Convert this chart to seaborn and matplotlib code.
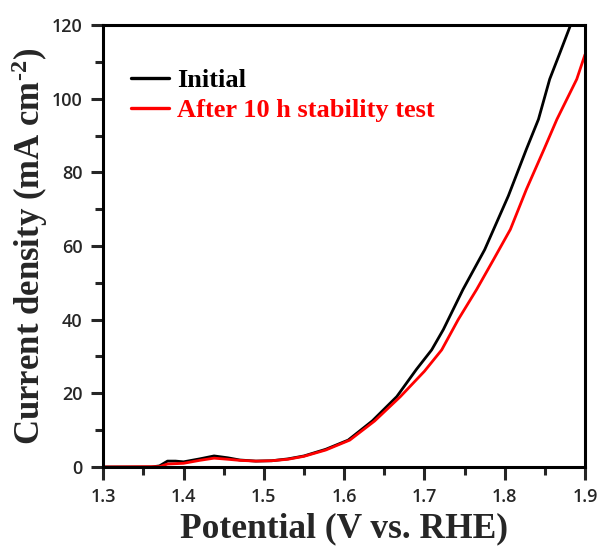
import numpy as np
import pandas as pd
import matplotlib
matplotlib.use("Agg")
import matplotlib.pyplot as plt
from matplotlib.ticker import MultipleLocator
import seaborn as sns

sns.set_style("ticks")
plt.rcParams["mathtext.fontset"] = "custom"
plt.rcParams["mathtext.rm"] = "Liberation Serif:bold"
plt.rcParams["mathtext.bf"] = "Liberation Serif:bold"
plt.rcParams["mathtext.default"] = "bf"

# LSV data
initial_v = [1.30, 1.36, 1.37, 1.38, 1.39, 1.40, 1.42, 1.438, 1.455, 1.47, 1.49, 1.51,
             1.53, 1.55, 1.577, 1.605, 1.635, 1.6655, 1.69, 1.709, 1.7235, 1.748, 1.775,
             1.8045, 1.827, 1.842, 1.856, 1.869, 1.882]
initial_j = [0.0, 0.0, 0.3, 1.6, 1.6, 1.4, 2.2, 3.0, 2.5, 1.9, 1.6, 1.7,
             2.2, 3.0, 4.8, 7.3, 12.5, 19.1, 26.5, 31.8, 37.3, 48.2, 59.0,
             73.6, 86.3, 94.4, 105.3, 112.6, 120.0]

after_v = [1.30, 1.37, 1.38, 1.40, 1.42, 1.438, 1.455, 1.47, 1.49, 1.51, 1.53, 1.55,
           1.577, 1.607, 1.638, 1.67, 1.70, 1.7215, 1.742, 1.765, 1.786, 1.807, 1.827,
           1.849, 1.865, 1.8897, 1.90]
after_j = [0.0, 0.1, 0.8, 1.0, 1.8, 2.4, 2.1, 1.8, 1.6, 1.7, 2.1, 2.9,
           4.6, 7.3, 12.5, 19.1, 26.0, 31.8, 40.0, 48.2, 56.3, 64.5, 75.4,
           86.3, 94.4, 105.3, 112.0]

labels = ["Initial", "After 10 h stability test"]
colors = ["black", "red"]

serif = ["Liberation Serif", "DejaVu Serif"]

fig = plt.figure(figsize=(6.05, 5.52), dpi=100)
ax = fig.add_axes([0.1707, 0.154, 0.7963, 0.8007])

sns.lineplot(x=initial_v, y=initial_j, color=colors[0], lw=2.0, label=labels[0], ax=ax)
sns.lineplot(x=after_v, y=after_j, color=colors[1], lw=2.0, label=labels[1], ax=ax)

ax.set_xlim(1.3, 1.9)
ax.set_ylim(0, 120)
ax.xaxis.set_major_locator(MultipleLocator(0.1))
ax.xaxis.set_minor_locator(MultipleLocator(0.05))
ax.yaxis.set_major_locator(MultipleLocator(20))
ax.yaxis.set_minor_locator(MultipleLocator(10))

for s in ax.spines.values():
    s.set_linewidth(2.2)
    s.set_color("black")
ax.tick_params(which="major", direction="out", length=9, width=2.2, labelsize=13)
ax.tick_params(which="minor", direction="out", length=6, width=2.2)
ax.tick_params(axis="x", which="major", pad=6)
ax.tick_params(axis="y", which="major", pad=6)
for t in ax.get_xticklabels() + ax.get_yticklabels():
    t.set_fontfamily(["Open Sans", "DejaVu Sans"])
    t.set_fontweight("semibold")

ax.set_xlabel("Potential (V vs. RHE)", family=serif, fontsize=25.5, fontweight="bold", labelpad=5)
ax.set_ylabel(r"Current density (mA cm$^{\text{-2}}$)", family=serif, fontsize=25,
              fontweight="bold", labelpad=1)

leg = ax.legend(loc="upper left", bbox_to_anchor=(0.035, 0.925), frameon=False,
                prop={"family": serif, "weight": "bold", "size": 19},
                handlelength=1.45, handletextpad=0.3, labelspacing=0.25, borderaxespad=0)
for txt, c in zip(leg.get_texts(), colors):
    txt.set_color(c)
for ln in leg.get_lines():
    ln.set_linewidth(2.4)

fig.savefig("out.png", dpi=100)
